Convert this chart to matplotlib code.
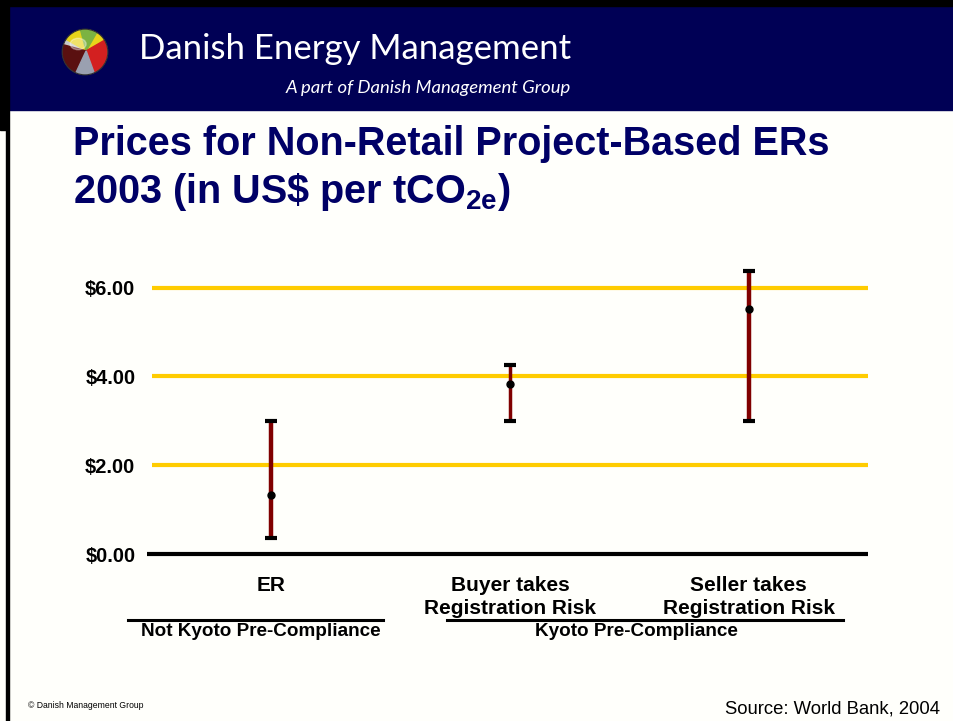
import matplotlib
matplotlib.use("Agg")
import matplotlib.pyplot as plt
import matplotlib.patches as mpatches
import numpy as np

categories = ["ER", "Buyer takes\nRegistration Risk", "Seller takes\nRegistration Risk"]
mean_price = [1.33, 3.83, 5.52]
low_price = [0.36, 3.00, 3.00]
high_price = [3.00, 4.26, 6.37]
yticks = [0, 2, 4, 6]
ytick_labels = ["$0.00", "$2.00", "$4.00", "$6.00"]
groups = ["Not Kyoto Pre-Compliance", "Kyoto Pre-Compliance"]

W, H = 954, 721
fig = plt.figure(figsize=(W / 100, H / 100), dpi=100)
fig.patch.set_facecolor("#fffffb")

def fx(px):
    return px / W

def fy(py):
    return 1 - py / H

# borders and header band
fig.add_artist(mpatches.Rectangle((0, fy(110)), 1, 110 / H, transform=fig.transFigure,
                                  color="#000055", zorder=-5))
fig.add_artist(mpatches.Rectangle((0, fy(6)), 1, 6 / H, transform=fig.transFigure, color="black", zorder=-4))
fig.add_artist(mpatches.Rectangle((0, fy(130)), 8 / W, 130 / H, transform=fig.transFigure,
                                  color="black", zorder=-4))
fig.add_artist(mpatches.Rectangle((fx(6), 0), 3 / W, 1, transform=fig.transFigure, color="black", zorder=-4))

# logo sphere
lax = fig.add_axes([fx(61), fy(76), 48 / W, 48 / H])
lax.set_xlim(-1.05, 1.05)
lax.set_ylim(-1.05, 1.05)
lax.set_aspect("equal")
lax.axis("off")
clip = mpatches.Circle((0, 0), 1.0, transform=lax.transData)
cols = [("#c8c8c8", 0, 360), ("#e8d41a", 30, 150), ("#7cb342", 60, 105), ("#d32020", -70, 30),
        ("#5a1010", 165, 245), ("#9aa0b0", 245, 290)]
for c, a1, a2 in cols:
    w = mpatches.Wedge((0.05, 0.05), 1.3, a1, a2, color=c)
    lax.add_patch(w)
    w.set_clip_path(clip)
hl = mpatches.Ellipse((-0.3, 0.35), 0.7, 0.5, color="white", alpha=0.35)
lax.add_patch(hl)
hl.set_clip_path(clip)
lax.add_patch(mpatches.Circle((0, 0), 1.0, fill=False, ec="#303030", lw=0.8))

fig.text(fx(139), fy(49), "Danish Energy Management", color="white", fontsize=25,
         family="Lato", va="center", ha="left")
fig.text(fx(571), fy(88), "A part of Danish Management Group", color="white", fontsize=13.3,
         family="Lato", style="italic", va="center", ha="right")

navy = "#000066"
fig.text(fx(73), fy(144), "Prices for Non-Retail Project-Based ERs", color=navy, fontsize=28.5,
         family="Liberation Sans", fontweight="bold", va="center", ha="left")
fig.text(fx(73), fy(192), r"2003 (in US\$ per tCO$_{\mathregular{2e}}$)", color=navy, fontsize=28.5,
         family="Liberation Sans", fontweight="bold", va="center", ha="left")

# chart
y0 = 554
ppu = 44.4
ytop = 6.5
ax = fig.add_axes([fx(152), fy(y0), fx(868) - fx(152), ytop * ppu / H])
ax.set_facecolor("none")
ax.set_xlim(-0.5, 2.5)
ax.set_ylim(0, ytop)
for s in ax.spines.values():
    s.set_visible(False)
for t in yticks[1:]:
    ax.axhline(t, color="#ffcc00", lw=3, zorder=1)
ax.plot([-0.52, 2.5], [0, 0], color="black", lw=3, clip_on=False, zorder=2, solid_capstyle="butt")

x = np.arange(len(categories))
mean = np.array(mean_price)
yerr = [mean - np.array(low_price), np.array(high_price) - mean]
lws = [3.2, 2.5, 3.2]
for i in range(len(x)):
    eb = ax.errorbar(x[i], mean[i], yerr=[[yerr[0][i]], [yerr[1][i]]], fmt="o", color="black",
                     markersize=5, ecolor="#800000", elinewidth=lws[i], capsize=4.5, capthick=3,
                     zorder=3, clip_on=False)
    for cl in eb[1]:
        cl.set_markeredgecolor("black")
        cl.set_markerfacecolor("black")
        cl.set_clip_on(False)
    for lc in eb[2]:
        lc.set_clip_on(False)

ax.set_yticks(yticks)
ax.set_yticklabels(ytick_labels, fontsize=14.5, fontweight="bold", family="Liberation Sans")
ax.set_xticks(x)
ax.set_xticklabels(categories, fontsize=15, fontweight="bold", family="Liberation Sans",
                   linespacing=1.25)
ax.tick_params(axis="y", length=0, pad=12)
ax.tick_params(axis="x", length=0, pad=16)

# group separators
fig.add_artist(plt.Line2D([fx(128), fx(383)], [fy(620), fy(620)], color="black", lw=2.2))
fig.add_artist(plt.Line2D([fx(447), fx(843)], [fy(620), fy(620)], color="black", lw=2.2))
fig.text(fx(261), fy(632), groups[0], fontsize=13.6, fontweight="bold", family="Liberation Sans",
         ha="center", va="center")
fig.text(fx(636), fy(632), groups[1], fontsize=13.6, fontweight="bold", family="Liberation Sans",
         ha="center", va="center")

fig.text(fx(28), fy(706), "© Danish Management Group", fontsize=6.2, family="Liberation Sans",
         ha="left", va="center")
fig.text(fx(940), fy(709), "Source: World Bank, 2004", fontsize=13.3, family="Liberation Sans",
         ha="right", va="center")

fig.savefig("out.png", dpi=100, facecolor=fig.get_facecolor())
